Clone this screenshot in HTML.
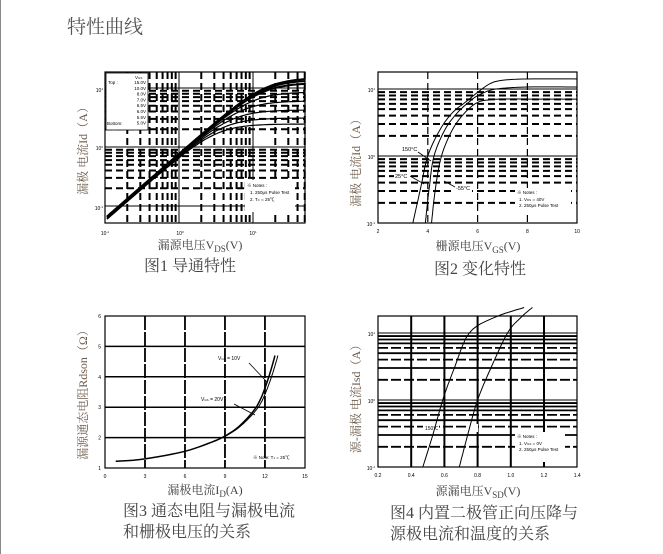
<!DOCTYPE html>
<html><head><meta charset="utf-8"><style>
body{margin:0;background:#fff;width:663px;height:554px;overflow:hidden}
svg{position:absolute;left:0;top:0}
text{font-family:"Liberation Sans","Noto Sans CJK SC",sans-serif}
.cn{font-family:"Liberation Serif","Noto Serif CJK SC",serif}
</style></head><body>
<svg id="s" width="663" height="554" xmlns="http://www.w3.org/2000/svg">
<line x1="0.5" y1="0" x2="0.5" y2="554" stroke="#888" stroke-width="1"/>
<text x="67" y="33" font-size="19" fill="#555" class="cn">特性曲线</text>
<g id="g"></g>
<text x="190" y="271" font-size="16" fill="#444" text-anchor="middle" class="cn">图1 导通特性</text>
<text x="480" y="274" font-size="16" fill="#444" text-anchor="middle" class="cn">图2 变化特性</text>
<text x="123" y="516" font-size="16" fill="#444" class="cn">图3 通态电阻与漏极电流</text>
<text x="123" y="537" font-size="16" fill="#444" class="cn">和栅极电压的关系</text>
<text x="390" y="518" font-size="16" fill="#444" class="cn">图4 内置二极管正向压降与</text>
<text x="390" y="539" font-size="16" fill="#444" class="cn">源极电流和温度的关系</text>
</svg>
<script>
var g=document.getElementById('g'),h='';
function L(x1,y1,x2,y2,w,d,c){h+='<line x1="'+x1+'" y1="'+y1+'" x2="'+x2+'" y2="'+y2+'" stroke="'+(c||'#000')+'" stroke-width="'+w+'"'+(d?' stroke-dasharray="'+d+'"':'')+'/>';}
function T(x,y,s,sz,a,c,cls,rot){h+='<text x="'+x+'" y="'+y+'" font-size="'+sz+'" text-anchor="'+(a||'start')+'" fill="'+(c||'#000')+'"'+(cls?' class="'+cls+'"':'')+(rot?' transform="rotate(-90 '+x+' '+y+')"':'')+'>'+s+'</text>';}
function P(pts,w){h+='<polyline fill="none" stroke="#000" stroke-width="'+(w||1)+'" stroke-linejoin="round" points="'+pts.map(p=>p[0].toFixed(1)+','+p[1].toFixed(1)).join(' ')+'"/>';}
function box(x1,y1,x2,y2){h+='<rect x="'+x1+'" y="'+y1+'" width="'+(x2-x1)+'" height="'+(y2-y1)+'" fill="none" stroke="#000" stroke-width="1.2"/>';}
function interp(pts,n){var o=[];for(var i=0;i<pts.length-1;i++){var p0=pts[Math.max(i-1,0)],p1=pts[i],p2=pts[i+1],p3=pts[Math.min(i+2,pts.length-1)];for(var t=0;t<1;t+=1/n){var t2=t*t,t3=t2*t;o.push([0.5*((2*p1[0])+(-p0[0]+p2[0])*t+(2*p0[0]-5*p1[0]+4*p2[0]-p3[0])*t2+(-p0[0]+3*p1[0]-3*p2[0]+p3[0])*t3),0.5*((2*p1[1])+(-p0[1]+p2[1])*t+(2*p0[1]-5*p1[1]+4*p2[1]-p3[1])*t2+(-p0[1]+3*p1[1]-3*p2[1]+p3[1])*t3)]);}}o.push(pts[pts.length-1]);return o;}
var lg=Math.log10, brown='#6b5a4a';
// Chart 1
(function(){var X0=105,X1=305,Y0=72,Y1=223;
 var fx=v=>105+(lg(v)+1)*74, fy=v=>147-lg(v)*59;
 for(var d=-1;d<=1;d++)for(var k=1;k<=9;k++){var v=k*Math.pow(10,d);var y=fy(v);if(y>Y0&&y<Y1)L(X0,y,X1,y,k==1?1:2,k==1?null:'7,4');var x=fx(v);if(x>X0&&x<X1)L(x,Y0,x,Y1,k==1?1:2,k==1?null:'7,4');}
 box(X0,Y0,X1,Y1);
 h+='<rect x="106" y="73" width="42" height="57" fill="#fff" stroke="#000" stroke-width="0.8"/>';
 var lbl=['15.0V','10.0V','8.0V','7.0V','6.5V','6.0V','5.5V','5.0V'];
 T(135,79,'V<tspan font-size="3">GS</tspan>',4.5);
 lbl.forEach((s,i)=>T(146,84+i*5.8,s,4.5,'end'));T(108,84,'Top :',4.5);T(107,125,'Bottom:',4.5);
 var sat=[78,80,83,92,101,110,118,124];
 sat.forEach((s,i)=>{var pts=[];var sc=14;for(var x=107;x<=305;x+=2){var lin=218-(x-107)*0.87+(i-4)*0.4;var y=s+Math.log(1+Math.exp((lin-s)/sc))*sc;pts.push([x,y]);}P(pts,i<3?2:1.2);});
 h+='<rect x="245" y="180" width="50" height="32" fill="#fff"/>';
 T(247,187,'※ Notes :',4.5);T(250,194,'1. 250μs Pulse Test',4.5);T(250,201,'2. T<tspan font-size="3">C</tspan> = 25℃',4.5);
 T(103,92,'10<tspan font-size="3" dy="-2">1</tspan>',5,'end');T(103,150,'10<tspan font-size="3" dy="-2">0</tspan>',5,'end');T(103,210,'10<tspan font-size="3" dy="-2">-1</tspan>',5,'end');
 T(105,235,'10<tspan font-size="3" dy="-2">-1</tspan>',5,'middle');T(180,235,'10<tspan font-size="3" dy="-2">0</tspan>',5,'middle');T(253,235,'10<tspan font-size="3" dy="-2">1</tspan>',5,'middle');
 T(200,249,'漏源电压V<tspan font-size="9" dy="3">DS</tspan><tspan dy="-3">(V)</tspan>',12,'middle','#444','cn');
 T(87,148,'漏极 电流Id（A）',12,'middle',brown,'cn',1);
})();
// Chart 2
(function(){var X0=378,X1=577,Y0=72,Y1=223;
 var fx=v=>378+(v-2)*24.9, fy=v=>156-v*67;
 for(var d=-1;d<=1;d++)for(var k=1;k<=9;k++){var y=fy(lg(k*Math.pow(10,d)));if(y>Y0&&y<Y1)L(X0,y,X1,y,k==1?1:2,k==1?null:'7,4');}
 [4,6,8].forEach(v=>L(fx(v),Y0,fx(v),Y1,1.2,'7,4'));
 box(X0,Y0,X1,Y1);
 function cv(d){P(interp(d.map(p=>[fx(p[0]),fy(p[1])]),8),1);}
 cv([[3.4,-1],[3.7,-0.5],[4.0,0],[4.5,0.4],[5,0.65],[5.5,0.8],[6,0.95],[6.5,1.08],[7,1.13],[8,1.15],[10,1.15]]);
 cv([[3.9,-1],[4.05,-0.5],[4.25,0],[4.7,0.4],[5.2,0.65],[5.7,0.82],[6,0.9],[6.5,0.98],[7,1.01],[8,1.03],[10,1.03]]);
 cv([[4.15,-1],[4.3,-0.5],[4.55,0],[5,0.4],[5.5,0.65],[6,0.8],[6.5,0.84],[7,0.85],[8,0.85],[10,0.85]]);
 h+='<rect x="515" y="188" width="56" height="26" fill="#fff"/>';
 T(517,194,'※ Notes :',4.5);T(519,201,'1. V<tspan font-size="3">DS</tspan> = 40V',4.5);T(519,207,'2. 250μs Pulse Test',4.5);
 h+='<rect x="401" y="146" width="18" height="7" fill="#fff"/><rect x="394" y="173" width="15" height="7" fill="#fff"/><rect x="455" y="185" width="17" height="7" fill="#fff"/>';
 T(402,151,'150°C',5.5);T(395,178,'25°C',5.5);T(456,190,'-55°C',5.5);
 L(418,152,431,161,0.8);L(410,176,424,184,0.8);L(455,187,444,181,0.8);
 T(375,92,'10<tspan font-size="3" dy="-2">1</tspan>',5,'end');T(375,159,'10<tspan font-size="3" dy="-2">0</tspan>',5,'end');T(375,226,'10<tspan font-size="3" dy="-2">-1</tspan>',5,'end');
 [2,4,6,8,10].forEach(v=>T(fx(v),233,v,5,'middle'));
 T(478,250,'栅源电压V<tspan font-size="9" dy="3">GS</tspan><tspan dy="-3">(V)</tspan>',12,'middle','#444','cn');
 T(360,160,'漏极 电流Id（A）',12,'middle',brown,'cn',1);
})();
// Chart 3
(function(){var X0=105,X1=305,Y0=316,Y1=468;
 var fx=v=>105+v*13.33, fy=v=>468-(v-1)*30.4;
 [2,3,4,5].forEach(v=>L(X0,fy(v),X1,fy(v),1.5));
 [3,6,9,12].forEach(v=>L(fx(v),Y0,fx(v),Y1,1.8,'14,2'));
 box(X0,Y0,X1,Y1);
 var d=[[0.8,1.22],[3,1.3],[6,1.55],[8,1.85],[9,2.05],[10,2.35],[11,2.8],[11.6,3.2],[12.1,3.75],[12.5,4.3],[12.75,4.7]];
 P(interp(d.map(p=>[fx(p[0]),fy(p[1])]),6),1.5);
 P(interp(d.filter(p=>p[0]>=8).map(p=>[fx(p[0]+0.22*(p[0]-8)/4.75),fy(p[1])]),6),1);
 T(218,360,'V<tspan font-size="3">GS</tspan> = 10V',5);T(201,401,'V<tspan font-size="3">GS</tspan> = 20V',5);
 L(249,363,267,382,0.8);L(234,404,255,415,0.8);
 T(253,459,'※ Note: T<tspan font-size="3">J</tspan> = 25℃',4.5);
 [1,2,3,4,5,6].forEach(v=>T(101,fy(v)+2,v,5,'end'));
 [0,3,6,9,12,15].forEach(v=>T(fx(v),478,v,5,'middle'));
 T(205,494,'漏极电流I<tspan font-size="9" dy="3">D</tspan><tspan dy="-3">(A)</tspan>',12,'middle','#444','cn');
 T(87,392,'漏源通态电阻Rdson（Ω）',12,'middle',brown,'cn',1);
})();
// Chart 4
(function(){var X0=378,X1=577,Y0=316,Y1=467;
 var fx=v=>378+(v-0.2)*166, fy=v=>400-lg(v)*67;
 for(var d=-1;d<=1;d++)for(var k=1;k<=9;k++){var y=fy(k*Math.pow(10,d));if(y>Y0&&y<Y1)L(X0,y,X1,y,k==1?1:1.8,(k==2||k==4||k==6)?'10,3':null);}
 [0.4,0.6,0.8,1.0,1.2].forEach(v=>L(fx(v),Y0,fx(v),Y1,2));
 box(X0,Y0,X1,Y1);
 h+='<rect x="515" y="432" width="50" height="30" fill="#fff"/>';
 T(517,438,'※ Notes :',4.5);T(519,445,'1. V<tspan font-size="3">GS</tspan> = 0V',4.5);T(519,451,'2. 250μs Pulse Test',4.5);
 h+='<rect x="423" y="423" width="16" height="8" fill="#fff"/><rect x="466" y="424" width="12" height="8" fill="#fff"/>';
 T(425,430,'150℃',5);
 function cv(pts){P(interp(pts.map(p=>[fx(p[0]),fy(p[1])]),6),1);}
 cv([[0.47,0.1],[0.53,0.3],[0.59,1],[0.66,3],[0.75,10],[0.9,17],[1.08,24]]);
 cv([[0.69,0.1],[0.74,0.3],[0.8,1],[0.88,3],[0.98,10],[1.06,17],[1.13,24]]);
 T(375,336,'10<tspan font-size="3" dy="-2">1</tspan>',5,'end');T(375,403,'10<tspan font-size="3" dy="-2">0</tspan>',5,'end');T(375,470,'10<tspan font-size="3" dy="-2">-1</tspan>',5,'end');
 [0.2,0.4,0.6,0.8,1.0,1.2,1.4].forEach(v=>T(fx(v),477,v.toFixed(1),5,'middle'));
 T(478,495,'源漏电压V<tspan font-size="9" dy="3">SD</tspan><tspan dy="-3">(V)</tspan>',12,'middle','#444','cn');
 T(360,396,'源-漏极 电流Isd（A）',12,'middle',brown,'cn',1);
})();
g.innerHTML=h;
</script>
</body></html>
